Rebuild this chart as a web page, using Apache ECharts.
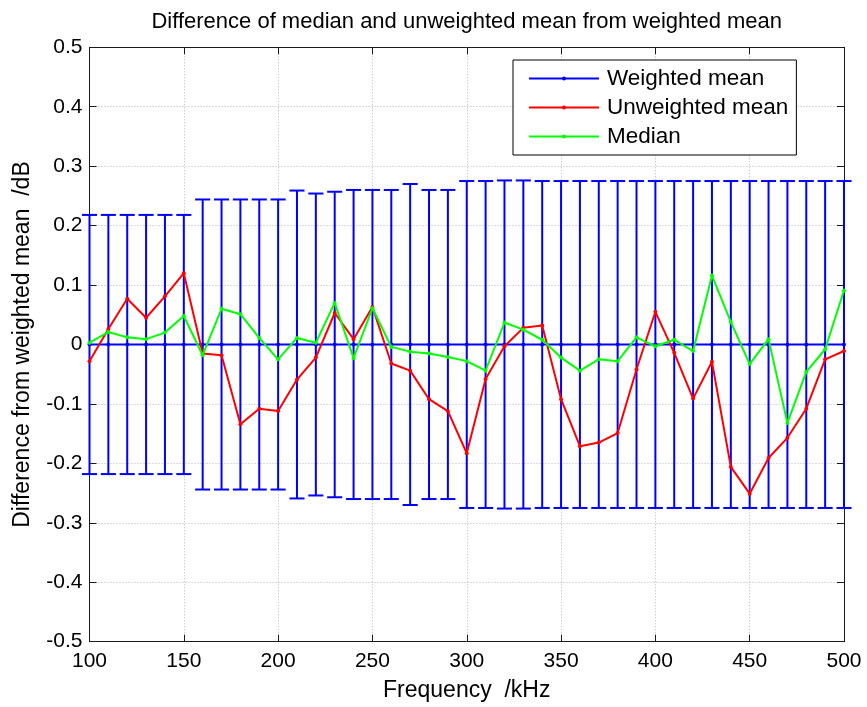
<!DOCTYPE html>
<html>
<head>
<meta charset="utf-8">
<script src="https://cdn.jsdelivr.net/npm/echarts@6/dist/echarts.min.js"></script>
<style>
  html, body { margin: 0; padding: 0; background: #fff; }
  #chart { width: 867px; height: 707px; }
</style>
</head>
<body>
<div id="chart"></div>
<script>
// Frequencies (kHz)
const freq = [100, 110, 120, 130, 140, 150, 160, 170, 180, 190,
              200, 210, 220, 230, 240, 250, 260, 270, 280, 290,
              300, 310, 320, 330, 340, 350, 360, 370, 380, 390,
              400, 410, 420, 430, 440, 450, 460, 470, 480, 490, 500];

// Weighted mean is the reference, so its difference is zero everywhere
const weightedMean = [0, 0, 0, 0, 0, 0, 0, 0, 0, 0,
                      0, 0, 0, 0, 0, 0, 0, 0, 0, 0,
                      0, 0, 0, 0, 0, 0, 0, 0, 0, 0,
                      0, 0, 0, 0, 0, 0, 0, 0, 0, 0, 0];

// Half-width of the uncertainty bar around the weighted mean (dB)
const uncertainty = [0.218, 0.218, 0.218, 0.218, 0.218, 0.218, 0.244, 0.244, 0.244, 0.244,
                     0.244, 0.259, 0.254, 0.257, 0.260, 0.260, 0.260, 0.270, 0.260, 0.260,
                     0.275, 0.275, 0.276, 0.276, 0.275, 0.275, 0.275, 0.275, 0.275, 0.275,
                     0.275, 0.275, 0.275, 0.275, 0.275, 0.275, 0.275, 0.275, 0.275, 0.275, 0.275];

// Unweighted mean minus weighted mean (dB)
const unweightedMean = [-0.028, 0.026, 0.077, 0.045, 0.081, 0.120, -0.015, -0.018, -0.134, -0.108,
                        -0.112, -0.059, -0.022, 0.053, 0.009, 0.063, -0.032, -0.044, -0.092, -0.112,
                        -0.183, -0.058, -0.003, 0.028, 0.032, -0.092, -0.171, -0.165, -0.149, -0.042,
                        0.055, -0.014, -0.091, -0.029, -0.206, -0.251, -0.191, -0.157, -0.108, -0.025, -0.011];

// Median minus weighted mean (dB)
const median = [0.003, 0.021, 0.012, 0.009, 0.020, 0.048, -0.018, 0.060, 0.051, 0.011,
                -0.025, 0.011, 0.003, 0.070, -0.023, 0.061, -0.004, -0.012, -0.015, -0.021,
                -0.028, -0.044, 0.037, 0.025, 0.008, -0.022, -0.044, -0.025, -0.028, 0.012,
                -0.003, 0.008, -0.011, 0.116, 0.038, -0.033, 0.009, -0.132, -0.046, -0.008, 0.091];

const xTicks = { min: 100, max: 500, interval: 50 };
const yTicks = { min: -0.5, max: 0.5, interval: 0.1 };

const pair = (ys) => freq.map((f, i) => [f, ys[i]]);
const errData = freq.map((f, i) => [f, weightedMean[i] - uncertainty[i], weightedMean[i] + uncertainty[i]]);

const FONT = '"Liberation Sans", Arial, Helvetica, sans-serif';
const AXIS_COLOR = '#1a1a1a';
const GRID_COLOR = '#b8b8b8';
const CAP = 4; // half cap width in kHz

const plot = { left: 89.5, right: 23, top: 47.3, bottom: 65.3 };

const chart = echarts.init(document.getElementById('chart'), null, { renderer: 'canvas' });

const axisCommon = {
  axisLine: { show: true, onZero: false, lineStyle: { color: AXIS_COLOR, width: 1 } },
  axisTick: { show: true, inside: true, length: 7, lineStyle: { color: AXIS_COLOR, width: 1 } },
  minorTick: { show: false }
};

chart.setOption({
  animation: false,
  backgroundColor: '#ffffff',
  textStyle: { fontFamily: FONT },
  graphic: [{
    type: 'text',
    x: 466.75,
    y: 22,
    style: {
      text: 'Difference of median and unweighted mean from weighted mean',
      font: '22px ' + FONT,
      fill: '#000',
      align: 'center',
      verticalAlign: 'middle'
    }
  }],
  grid: Object.assign({ containLabel: false }, plot),
  legend: {
    orient: 'vertical',
    left: 513,
    top: 60,
    data: ['Weighted mean', 'Unweighted mean', 'Median'],
    itemWidth: 70,
    itemHeight: 5,
    itemGap: 6,
    padding: [7, 8, 7, 15],
    backgroundColor: '#fff',
    borderColor: '#000',
    borderWidth: 1,
    borderRadius: 0,
    textStyle: { fontSize: 22.5, color: '#000', fontFamily: FONT, padding: [0, 0, 0, 3] }
  },
  xAxis: [
    Object.assign({
      type: 'value',
      position: 'bottom',
      min: xTicks.min, max: xTicks.max, interval: xTicks.interval,
      name: 'Frequency  /kHz',
      nameLocation: 'middle',
      nameGap: 37,
      nameTextStyle: { fontSize: 23, color: '#000', fontFamily: FONT },
      axisLabel: { fontSize: 21, color: '#000', margin: 9, fontFamily: FONT },
      splitLine: { show: true, lineStyle: { color: GRID_COLOR, type: [1, 2], width: 1 } }
    }, axisCommon),
    Object.assign({
      type: 'value',
      position: 'top',
      min: xTicks.min, max: xTicks.max, interval: xTicks.interval,
      axisLabel: { show: false },
      splitLine: { show: false }
    }, axisCommon)
  ],
  yAxis: [
    Object.assign({
      type: 'value',
      position: 'left',
      min: yTicks.min, max: yTicks.max, interval: yTicks.interval,
      name: 'Difference from weighted mean  /dB',
      nameLocation: 'middle',
      nameGap: 55,
      nameTextStyle: { fontSize: 23, color: '#000', fontFamily: FONT },
      axisLabel: {
        fontSize: 21, color: '#000', margin: 7, fontFamily: FONT,
        formatter: (v) => String(+(+v).toFixed(1))
      },
      splitLine: { show: true, lineStyle: { color: GRID_COLOR, type: [1, 2], width: 1 } }
    }, axisCommon),
    Object.assign({
      type: 'value',
      position: 'right',
      min: yTicks.min, max: yTicks.max, interval: yTicks.interval,
      axisLabel: { show: false },
      splitLine: { show: false }
    }, axisCommon)
  ],
  series: [
    {
      name: 'Uncertainty',
      type: 'custom',
      xAxisIndex: 0, yAxisIndex: 0,
      data: errData,
      encode: { x: 0, y: [1, 2] },
      z: 2,
      renderItem: (params, api) => {
        const f = api.value(0);
        const lo = api.coord([f, api.value(1)]);
        const hi = api.coord([f, api.value(2)]);
        const loL = api.coord([f - CAP, api.value(1)]);
        const loR = api.coord([f + CAP, api.value(1)]);
        const hiL = api.coord([f - CAP, api.value(2)]);
        const hiR = api.coord([f + CAP, api.value(2)]);
        const style = { stroke: '#0000ff', lineWidth: 2, fill: null };
        return {
          type: 'group',
          children: [
            { type: 'line', shape: { x1: lo[0], y1: lo[1], x2: hi[0], y2: hi[1] }, style },
            { type: 'line', shape: { x1: loL[0], y1: loL[1], x2: loR[0], y2: loR[1] }, style },
            { type: 'line', shape: { x1: hiL[0], y1: hiL[1], x2: hiR[0], y2: hiR[1] }, style }
          ]
        };
      }
    },
    {
      name: 'Weighted mean',
      type: 'line',
      data: pair(weightedMean),
      color: '#0000ff',
      lineStyle: { color: '#0000ff', width: 2 },
      itemStyle: { color: '#0000ff' },
      symbol: 'circle',
      symbolSize: 4,
      showSymbol: true,
      z: 3
    },
    {
      name: 'Unweighted mean',
      type: 'line',
      data: pair(unweightedMean),
      color: '#ff0000',
      lineStyle: { color: '#ff0000', width: 2 },
      itemStyle: { color: '#ff0000' },
      symbol: 'circle',
      symbolSize: 4,
      showSymbol: true,
      z: 4
    },
    {
      name: 'Median',
      type: 'line',
      data: pair(median),
      color: '#00ff00',
      lineStyle: { color: '#00ff00', width: 2 },
      itemStyle: { color: '#00ff00' },
      symbol: 'circle',
      symbolSize: 4,
      showSymbol: true,
      z: 5
    }
  ]
});
</script>
</body>
</html>
